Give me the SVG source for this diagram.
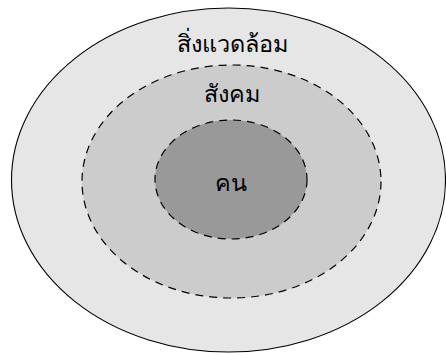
<svg xmlns="http://www.w3.org/2000/svg" width="446" height="353" viewBox="0 0 446 353">
<style>
.lbl{font-family:"DejaVu Sans","Noto Sans",sans-serif;font-size:23.5px;fill:#000;text-anchor:middle}
.dash{stroke:#000;stroke-width:1.2;stroke-dasharray:8,6}
</style>
<rect width="446" height="353" fill="#fff"/>
<g id="env">
<ellipse cx="228.5" cy="180" rx="217" ry="172" fill="#e6e6e6" stroke="#000" stroke-width="1.1"/>
<text class="lbl" x="232" y="52">สิ่งแวดล้อม</text>
</g>
<g id="society">
<ellipse class="dash" cx="231.5" cy="181.5" rx="149.5" ry="116.5" fill="#cccccc"/>
<text class="lbl" x="232" y="102">สังคม</text>
</g>
<g id="person">
<ellipse class="dash" cx="231" cy="179.5" rx="76" ry="59.5" fill="#999999"/>
<text class="lbl" x="231" y="191">คน</text>
</g>
<g id="connectors"></g>
</svg>
